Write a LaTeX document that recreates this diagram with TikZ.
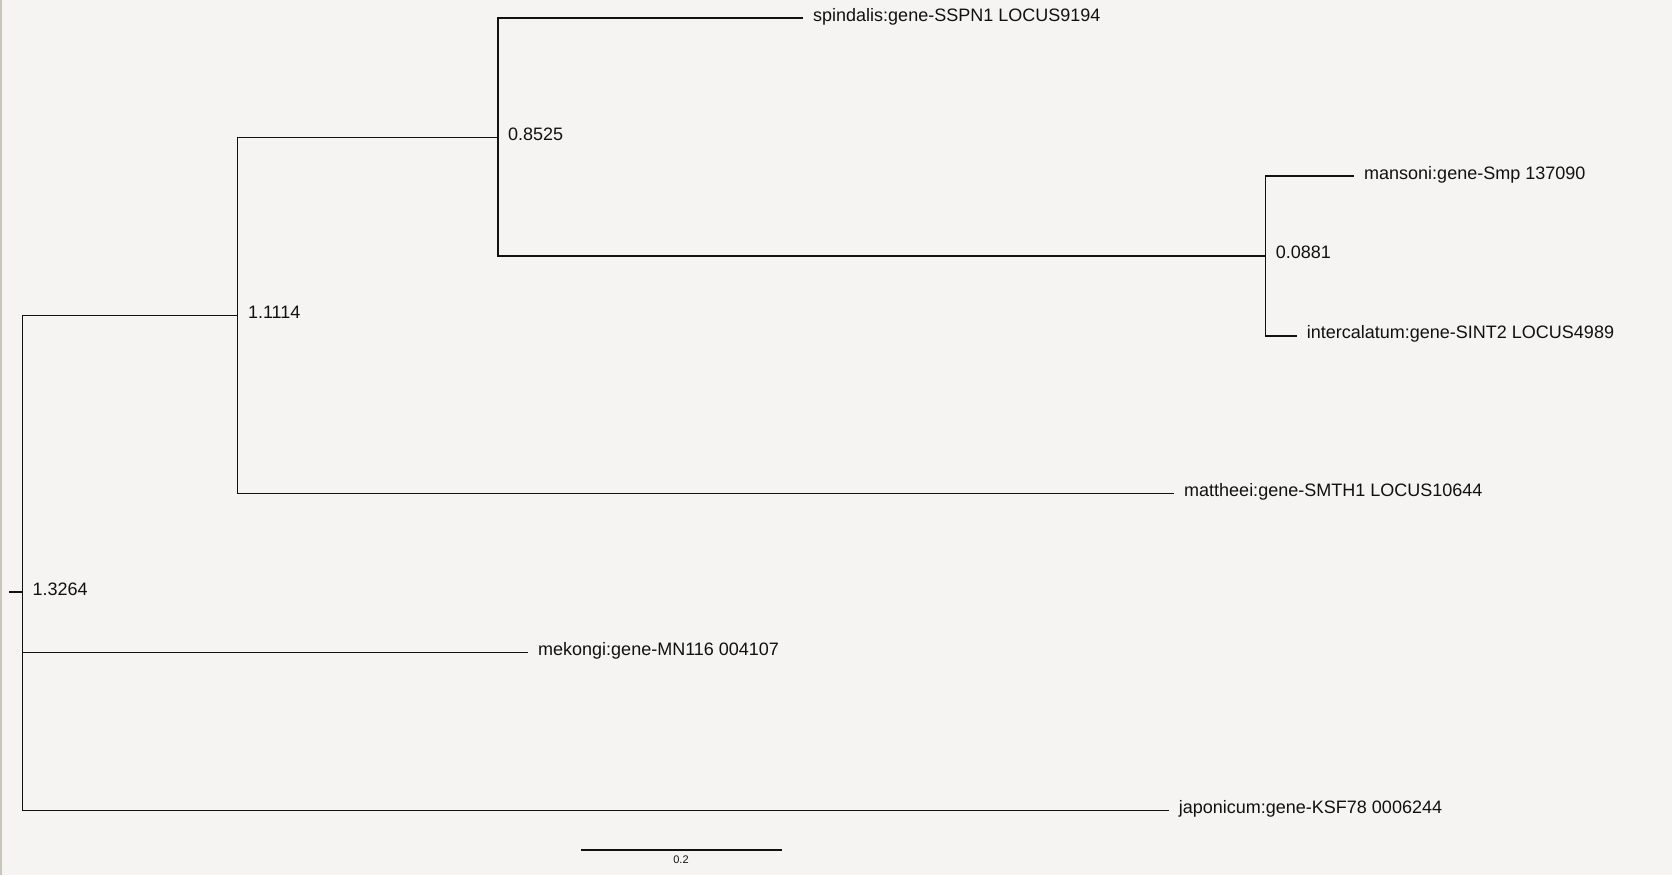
\documentclass[tikz,border=0pt]{standalone}
\usepackage{fontspec}
\setmainfont{Liberation Sans}
\definecolor{paper}{HTML}{F5F4F2}
\definecolor{edgegray}{HTML}{C9C5BD}
\definecolor{ink}{HTML}{111111}
\begin{document}
\begin{tikzpicture}[x=1pt,y=-1pt,
  branch/.style={draw=ink,line width=1.2pt},
  tiplabel/.style={anchor=base west,inner sep=0pt,text=ink,font=\fontsize{18}{21}\selectfont},
  nodelabel/.style={anchor=base west,inner sep=0pt,text=ink,font=\fontsize{18}{21}\selectfont},
  scalelabel/.style={anchor=center,inner sep=0pt,text=ink,font=\fontsize{11}{13}\selectfont}]
  % canvas
  \fill[paper] (0,0) rectangle (1672,875);
  \useasboundingbox (0,0) rectangle (1672,875);
  \draw[edgegray,line width=2pt] (1,0) -- (1,875);

  % internal nodes
  \coordinate (stub) at (9,592);
  \coordinate (root) at (22.4,592);
  \coordinate (n1) at (237.8,315.6);
  \coordinate (n2) at (498,137.6);
  \coordinate (n3) at (1265.7,255.9);

  % tips
  \coordinate (tspin) at (803,18.1);
  \coordinate (tmans) at (1354,176);
  \coordinate (tinter) at (1296.7,335.9);
  \coordinate (tmatt) at (1174,493.7);
  \coordinate (tmek) at (528,652.6);
  \coordinate (tjap) at (1168.7,810.4);

  % branches
  \draw[branch] (stub) -- (root);
  \draw[branch] (root) |- (n1);
  \draw[branch] (root) |- (tmek);
  \draw[branch] (root) |- (tjap);
  \draw[branch] (n1) |- (n2);
  \draw[branch] (n1) |- (tmatt);
  \draw[branch] (n2) |- (tspin);
  \draw[branch] (n2) |- (n3);
  \draw[branch] (n3) |- (tmans);
  \draw[branch] (n3) |- (tinter);

  % support values
  \node[nodelabel] (lroot) at ([xshift=10pt,yshift=-3pt]root) {1.3264};
  \node[nodelabel] (ln1) at ([xshift=10pt,yshift=-3pt]n1) {1.1114};
  \node[nodelabel] (ln2) at ([xshift=10pt,yshift=-3pt]n2) {0.8525};
  \node[nodelabel] (ln3) at ([xshift=10pt,yshift=-3pt]n3) {0.0881};

  % tip names
  \node[tiplabel] (lspin) at ([xshift=10pt,yshift=-3pt]tspin) {spindalis:gene-SSPN1 LOCUS9194};
  \node[tiplabel] (lmans) at ([xshift=10pt,yshift=-3pt]tmans) {mansoni:gene-Smp 137090};
  \node[tiplabel] (linter) at ([xshift=10pt,yshift=-3pt]tinter) {intercalatum:gene-SINT2 LOCUS4989};
  \node[tiplabel] (lmatt) at ([xshift=10pt,yshift=-3pt]tmatt) {mattheei:gene-SMTH1 LOCUS10644};
  \node[tiplabel] (lmek) at ([xshift=10pt,yshift=-3pt]tmek) {mekongi:gene-MN116 004107};
  \node[tiplabel] (ljap) at ([xshift=10pt,yshift=-3pt]tjap) {japonicum:gene-KSF78 0006244};

  % scale bar
  \coordinate (sbl) at (581,850);
  \coordinate (sbr) at (781.6,850);
  \draw[branch] (sbl) -- (sbr);
  \node[scalelabel] (sbtext) at (681,859.5) {0.2};
\end{tikzpicture}
\end{document}
